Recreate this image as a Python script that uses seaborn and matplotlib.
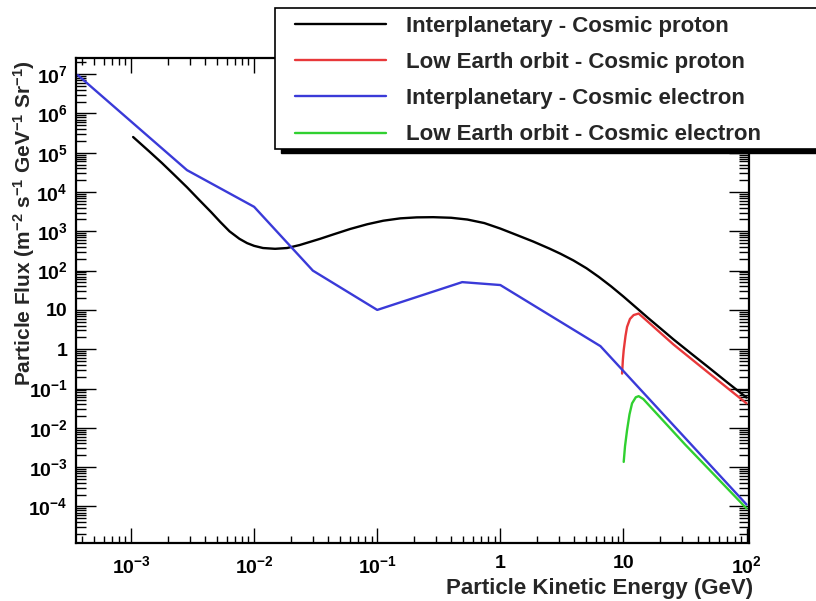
import numpy as np
import pandas as pd
import matplotlib
matplotlib.use("Agg")
import matplotlib.pyplot as plt
from matplotlib.ticker import LogLocator, NullFormatter
from matplotlib.patches import Rectangle
from matplotlib.lines import Line2D
import seaborn as sns

# ---------------- data ----------------
series_names = [
    "Interplanetary - Cosmic proton",
    "Low Earth orbit - Cosmic proton",
    "Interplanetary - Cosmic electron",
    "Low Earth orbit - Cosmic electron",
]
series_colors = ["#000000", "#e8383a", "#3a3ad8", "#30d030"]

ip_proton_E = [1.04e-3, 1.41e-3, 1.78e-3, 2.24e-3, 2.85e-3, 3.55e-3, 4.47e-3, 5.3e-3,
               6.31e-3, 7.59e-3, 8.77e-3, 1.0e-2, 1.18e-2, 1.48e-2, 1.85e-2, 2.34e-2,
               3.44e-2, 4.39e-2, 6.03e-2, 8.3e-2, 0.112, 0.154, 0.209, 0.285, 0.398,
               0.54, 0.741, 1.0, 1.35, 1.85, 2.51, 3.08, 3.92, 5.01, 6.31, 7.94, 10.0,
               12.6, 15.8, 20.0, 25.5, 35.5, 48.2, 70.8, 100.0]
ip_proton_F = [2.51e5, 1.07e5, 5.5e4, 2.75e4, 1.32e4, 6.46e3, 3.09e3, 1.74e3,
               1.0e3, 646, 501, 427, 376, 359, 376, 447,
               646, 832, 1148, 1514, 1862, 2138, 2265, 2291, 2213,
               1995, 1622, 1175, 813, 550, 363, 269, 182, 115, 69.2, 39.8, 21.9,
               11.7, 6.31, 3.39, 1.78, 0.776, 0.363, 0.138, 0.0589]

leo_proton_E = [9.75, 9.9, 10.05, 10.4, 10.7, 11.3, 12.1, 13.3, 25.5, 48.2, 100.0]
leo_proton_F = [0.24, 0.55, 0.95, 2.2, 3.7, 5.9, 7.4, 8.1, 1.32, 0.263, 0.042]

ip_electron_E = [3.7e-4, 2.85e-3, 1.0e-2, 3.0e-2, 0.1, 0.49, 1.0, 6.5, 100.0]
ip_electron_F = [9.4e6, 3.6e4, 4.2e3, 1.0e2, 10.0, 51.0, 43.0, 1.2, 1.12e-4]

leo_electron_E = [10.05, 10.3, 10.7, 11.2, 11.75, 12.6, 13.3, 14.5, 31.6, 100.0]
leo_electron_F = [1.36e-3, 3.4e-3, 8.7e-3, 2.2e-2, 4.2e-2, 6.0e-2, 6.4e-2, 5.4e-2, 3.8e-3, 8.9e-5]

x_ticks = [1e-3, 1e-2, 1e-1, 1, 10, 100]
x_tick_labels = [r"$10^{-3}$", r"$10^{-2}$", r"$10^{-1}$", "1", "10", r"$10^{2}$"]
y_ticks = [1e-4, 1e-3, 1e-2, 1e-1, 1, 10, 1e2, 1e3, 1e4, 1e5, 1e6, 1e7]
y_tick_labels = [r"$10^{-4}$", r"$10^{-3}$", r"$10^{-2}$", r"$10^{-1}$", "1", "10",
                 r"$10^{2}$", r"$10^{3}$", r"$10^{4}$", r"$10^{5}$", r"$10^{6}$", r"$10^{7}$"]

x_label = "Particle Kinetic Energy (GeV)"
y_label = r"Particle Flux (m$^{-2}$ s$^{-1}$ GeV$^{-1}$ Sr$^{-1}$)"

# ---------------- build table ----------------
frames = []
for name, E, F in zip(series_names,
                      [ip_proton_E, leo_proton_E, ip_electron_E, leo_electron_E],
                      [ip_proton_F, leo_proton_F, ip_electron_F, leo_electron_F]):
    frames.append(pd.DataFrame({"E": E, "F": F, "series": name}))
df = pd.concat(frames, ignore_index=True)

# ---------------- style ----------------
sns.set_theme(style="ticks")
plt.rcParams["font.family"] = ["Liberation Sans", "DejaVu Sans"]
plt.rcParams["font.weight"] = "bold"
plt.rcParams["mathtext.fontset"] = "custom"
plt.rcParams["mathtext.rm"] = "Liberation Sans:bold"
plt.rcParams["mathtext.bf"] = "Liberation Sans:bold"
plt.rcParams["mathtext.it"] = "Liberation Sans:bold"
plt.rcParams["axes.unicode_minus"] = True

fig = plt.figure(figsize=(8.16, 6.01), dpi=100)
fig.patch.set_facecolor("white")
ax = fig.add_axes([76 / 816, 1 - 543 / 601, (749 - 76) / 816, (543 - 58) / 601])

palette = dict(zip(series_names, series_colors))
for name in series_names:
    sub = df[df["series"] == name]
    sns.lineplot(data=sub, x="E", y="F", color=palette[name], sort=False,
                 estimator=None, linewidth=1.7, ax=ax, legend=False)

ax.set_xscale("log")
ax.set_yscale("log")
ax.set_xlim(10 ** -3.447, 10 ** 2.02)
ax.set_ylim(10 ** -4.93, 10 ** 7.41)

ax.set_xticks(x_ticks, x_tick_labels)
ax.set_yticks(y_ticks, y_tick_labels)
ax.xaxis.set_minor_locator(LogLocator(base=10, subs=np.arange(2, 10), numticks=100))
ax.yaxis.set_minor_locator(LogLocator(base=10, subs=np.arange(2, 10), numticks=100))
ax.xaxis.set_minor_formatter(NullFormatter())
ax.yaxis.set_minor_formatter(NullFormatter())

ax.tick_params(axis="both", which="both", direction="in", top=True, right=True,
               colors="black", width=1.0, labelsize=14)
ax.tick_params(axis="x", which="major", length=10.5, pad=9)
ax.tick_params(axis="x", which="minor", length=5.3)
ax.tick_params(axis="y", which="major", length=14.4, pad=6)
ax.tick_params(axis="y", which="minor", length=7.2)
for lab in ax.get_xticklabels() + ax.get_yticklabels():
    lab.set_fontweight("bold")
for sp in ax.spines.values():
    sp.set_linewidth(1.6)
    sp.set_color("black")
    sp.set_visible(True)

ax.set_xlabel(x_label, fontsize=16, fontweight="bold", loc="right")
ax.xaxis.set_label_coords(1.006, -0.072)
ax.set_ylabel(y_label, fontsize=15, fontweight="bold", loc="top")
ax.yaxis.set_label_coords(-0.0586, 0.995)

# ---------------- legend box with shadow (ROOT style) ----------------
bx0, by_top, by_bot, bx1 = 275, 8, 149, 840
shadow = Rectangle(((bx0 + 6) / 816, 1 - (by_bot + 4) / 601), (bx1 - bx0) / 816,
                   (by_bot - by_top) / 601, transform=fig.transFigure,
                   facecolor="black", edgecolor="black", zorder=3)
box = Rectangle((bx0 / 816, 1 - by_bot / 601), (bx1 - bx0) / 816,
                (by_bot - by_top) / 601, transform=fig.transFigure,
                facecolor="white", edgecolor="black", linewidth=1.2, zorder=3.1)
fig.add_artist(shadow)
fig.add_artist(box)

handles = [Line2D([0], [0], color=c, linewidth=1.7) for c in series_colors]
leg = fig.legend(handles, series_names, loc="upper left",
                 bbox_to_anchor=(295 / 816, 1 - 16 / 601), frameon=False,
                 borderpad=0, borderaxespad=0, handlelength=4.1, handletextpad=0.9,
                 labelspacing=0.68, prop={"family": "Liberation Sans", "weight": "bold", "size": 16})
leg.set_zorder(5)

fig.savefig("out.png", dpi=100, facecolor="white")
